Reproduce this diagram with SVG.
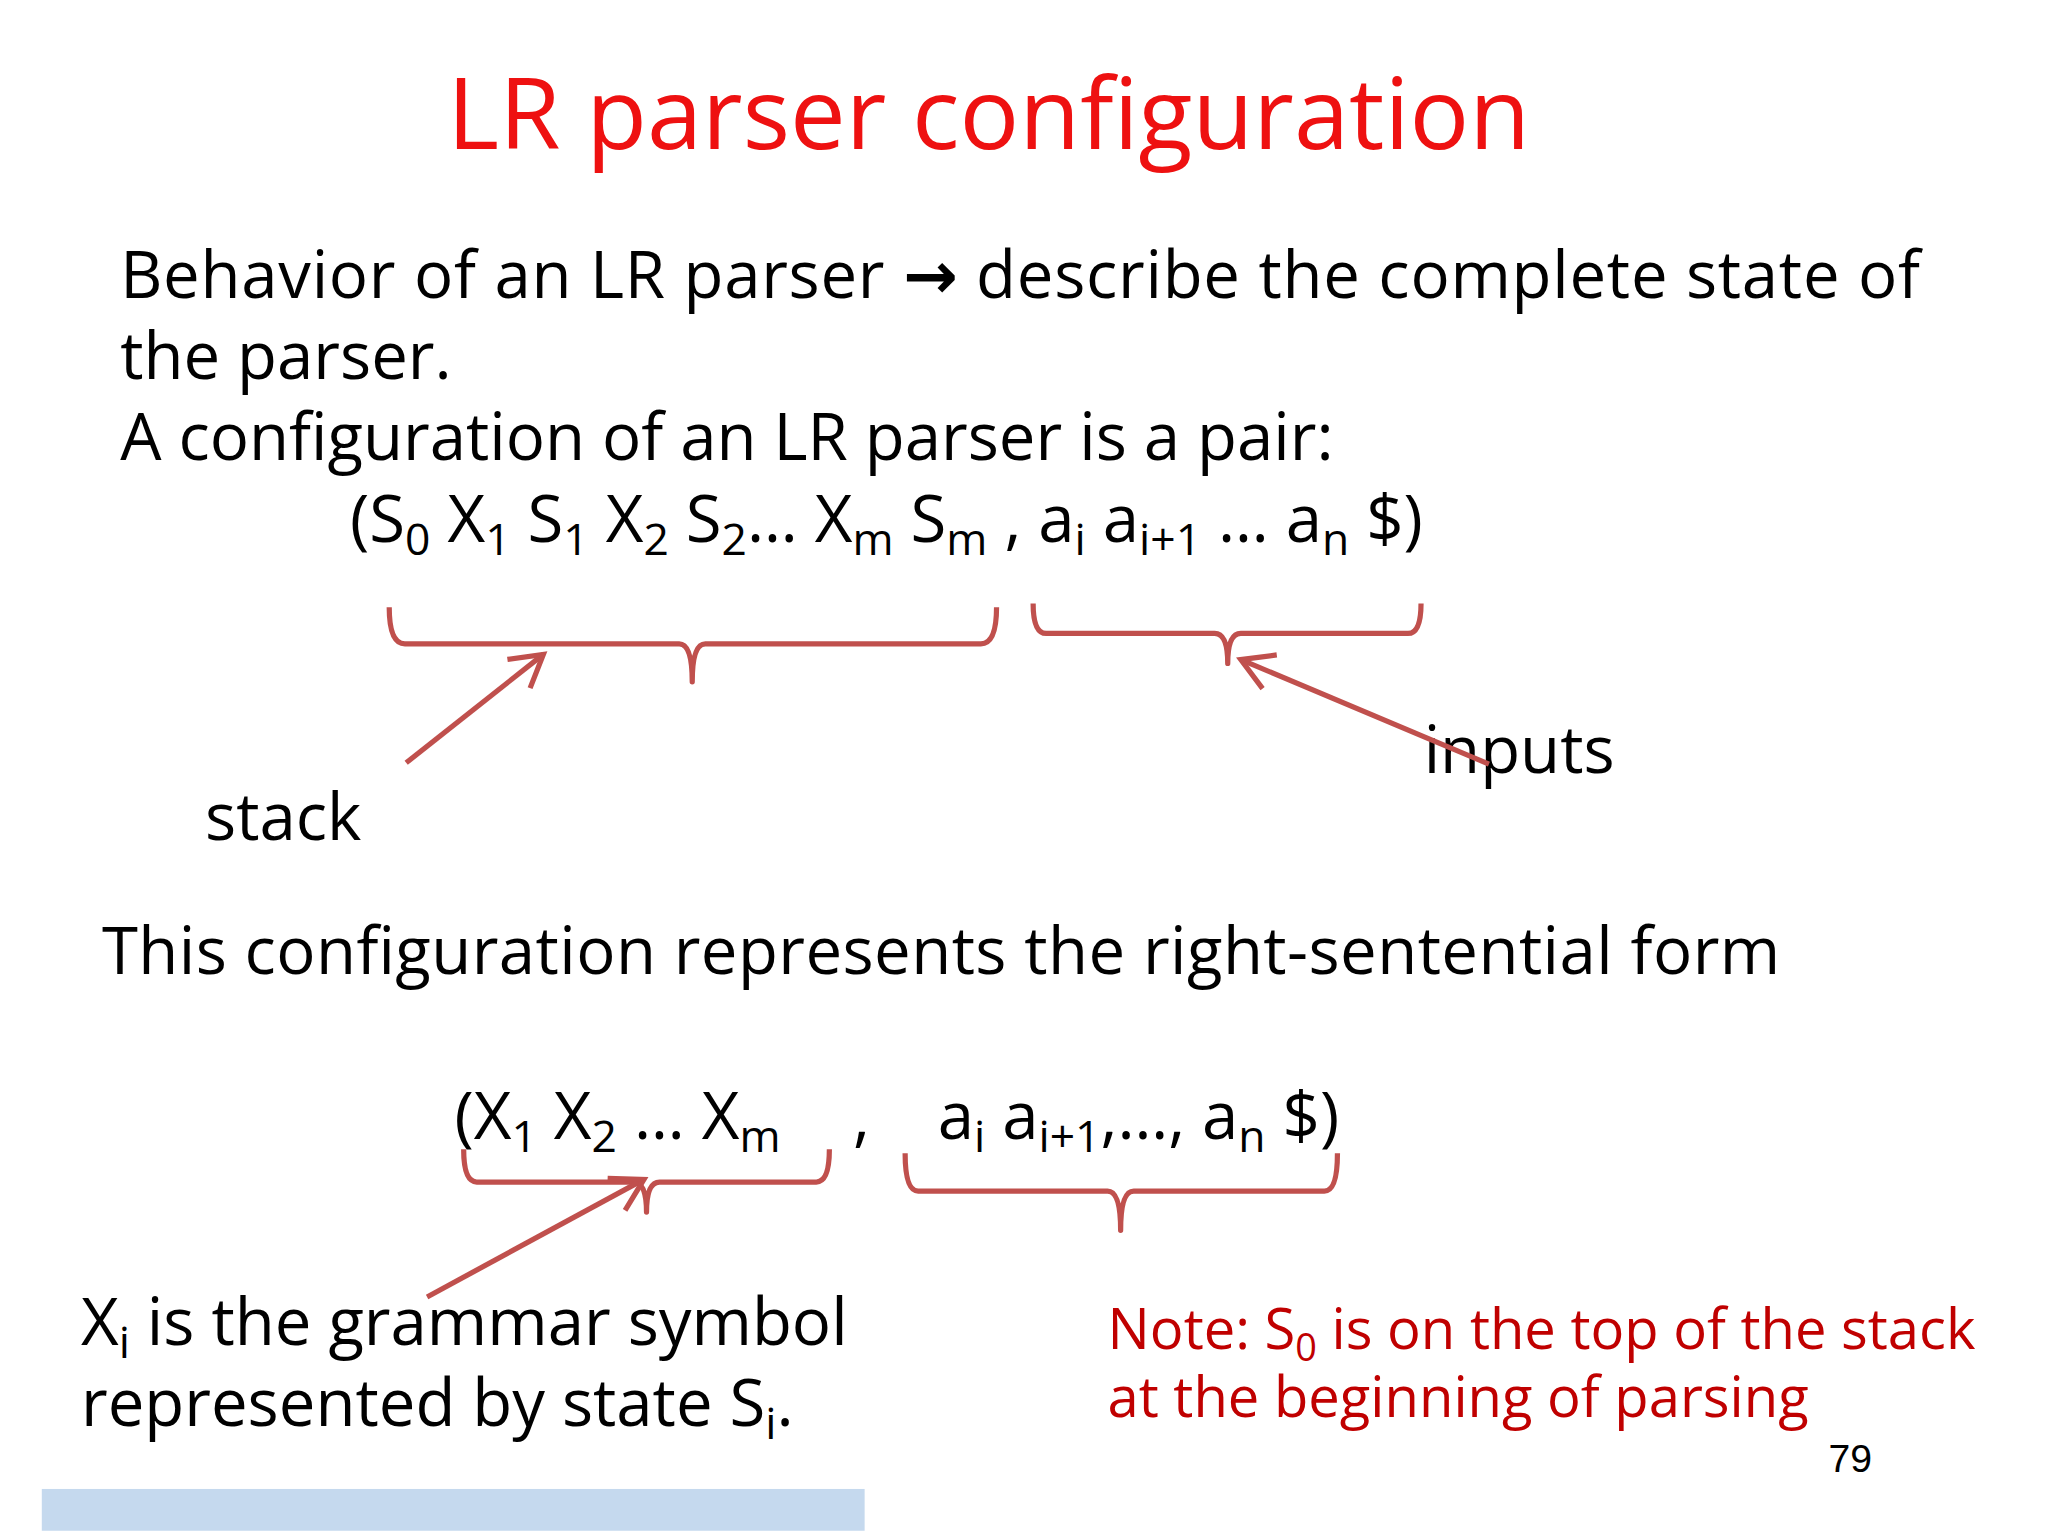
<svg xmlns="http://www.w3.org/2000/svg" width="2048" height="1536" viewBox="0 0 2048 1536">
<style>
.t{font-family:"Open Sans","DejaVu Sans",sans-serif;fill:#000}
.b{font-size:50px}
.r{fill:#c00000}
.br{fill:none;stroke:#c0504d;stroke-width:4;stroke-linejoin:round}
.ar{stroke:#c0504d;stroke-width:4;fill:none}
</style>
<defs><marker id="ah" markerWidth="8" markerHeight="8" refX="7" refY="4" orient="auto" markerUnits="strokeWidth"><path d="M1,0.5 L7,4 L1,7.5" fill="none" stroke="#c0504d" stroke-width="1"/></marker></defs>
<rect width="2048" height="1536" fill="#fff"/>
<g transform="scale(1.3061)">
<g id="title"><text class="t" x="757" y="114" font-size="76" style="fill:#ee1111" text-anchor="middle">LR parser configuration</text></g>
<g id="body">
<text class="t b" x="92" y="228" textLength="1378" lengthAdjust="spacing">Behavior of an LR parser <tspan font-weight="bold">→</tspan> describe the complete state of</text>
<text class="t b" x="92" y="290">the parser.</text>
<text class="t b" x="92" y="352">A configuration of an LR parser is a pair:</text>
<text class="t b" x="268" y="415">(S<tspan font-size="34" dy="10">0</tspan><tspan dy="-10"> X</tspan><tspan font-size="34" dy="10">1</tspan><tspan dy="-10"> S</tspan><tspan font-size="34" dy="10">1</tspan><tspan dy="-10"> X</tspan><tspan font-size="34" dy="10">2</tspan><tspan dy="-10"> S</tspan><tspan font-size="34" dy="10">2</tspan><tspan dy="-10">… X</tspan><tspan font-size="34" dy="10">m</tspan><tspan dy="-10"> S</tspan><tspan font-size="34" dy="10">m</tspan><tspan dy="-10"> , a</tspan><tspan font-size="34" dy="10">i</tspan><tspan dy="-10">  a</tspan><tspan font-size="34" dy="10">i+1</tspan><tspan dy="-10"> … a</tspan><tspan font-size="34" dy="10">n</tspan><tspan dy="-10"> $)</tspan></text>
</g>
<g id="stack"><text class="t b" x="157" y="643">stack</text></g>
<g id="inputs"><text class="t b" x="1090" y="592">inputs</text></g>
<g id="sentential"><text class="t b" x="78" y="746" textLength="1285" lengthAdjust="spacing">This configuration represents the right-sentential form</text></g>
<g id="form">
<text class="t b" x="348" y="872">(X<tspan font-size="34" dy="10">1</tspan><tspan dy="-10"> X</tspan><tspan font-size="34" dy="10">2</tspan><tspan dy="-10"> … X</tspan><tspan font-size="34" dy="10">m</tspan></text>
<text class="t b" x="653" y="872">,</text>
<text class="t b" x="718" y="872">a<tspan font-size="34" dy="10">i</tspan><tspan dy="-10"> a</tspan><tspan font-size="34" dy="10">i+1</tspan><tspan dy="-10">,…, a</tspan><tspan font-size="34" dy="10">n</tspan><tspan dy="-10"> $)</tspan></text>
</g>
<g id="xi"><text class="t b" x="62" y="1030">X<tspan font-size="34" dy="10">i</tspan><tspan dy="-10"> is the grammar symbol</tspan></text>
<text class="t b" x="62" y="1092">represented by state S<tspan font-size="34" dy="10">i</tspan><tspan dy="-10">.</tspan></text></g>
<g id="note"><text class="t r" font-size="43" x="848" y="1033">Note: S<tspan font-size="29" dy="9">0</tspan><tspan dy="-9"> is on the top of the stack</tspan></text>
<text class="t r" font-size="43" x="848" y="1085">at the beginning of parsing</text></g>
<g id="page"><text x="1400" y="1127" font-family="Liberation Sans,sans-serif" font-size="30">79</text></g>
<rect x="32" y="1140" width="630" height="32" fill="#c5d9ee"/>
<g id="connectors">
<path class="br" d="M298,465 Q298,493 310,493 L520,493 Q530,493 530,522 Q530,493 540,493 L751,493 Q763,493 763,465"/>
<path class="br" d="M791,462 Q791,485 801,485 L930,485 Q940,485 940,508 Q940,485 950,485 L1078,485 Q1088,485 1088,462"/>
<path class="br" d="M355,880 Q355,905 365,905 L485,905 Q495,905 495,928 Q495,905 505,905 L625,905 Q635,905 635,880"/>
<path class="br" d="M693,883 Q693,912 703,912 L848,912 Q858,912 858,942 Q858,912 868,912 L1014,912 Q1024,912 1024,883"/>
<line class="ar" x1="311" y1="584" x2="416" y2="501" marker-end="url(#ah)"/>
<line class="ar" x1="1140" y1="585" x2="950" y2="505" marker-end="url(#ah)"/>
<line class="ar" x1="327" y1="993" x2="493" y2="903" marker-end="url(#ah)"/>
</g>
</g>
</svg>
